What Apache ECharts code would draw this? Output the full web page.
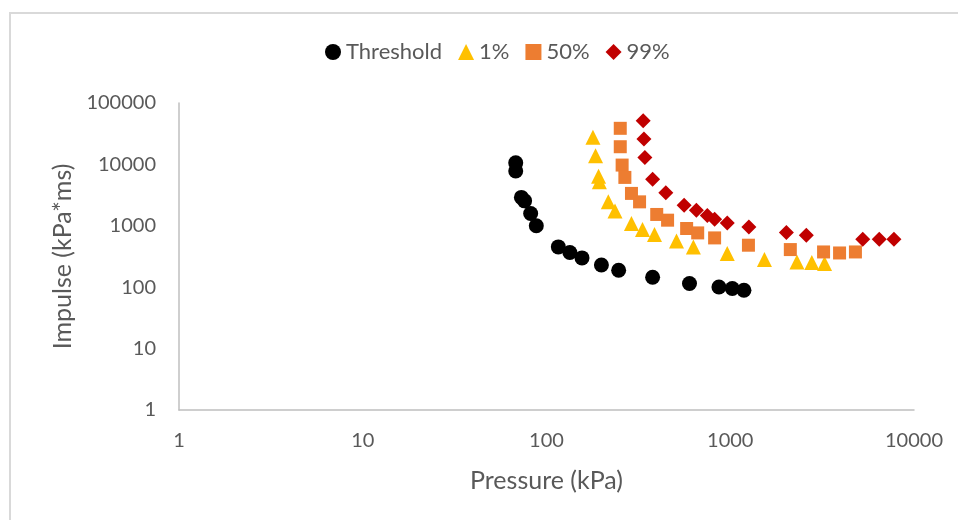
<!DOCTYPE html>
<html>
<head>
<meta charset="utf-8">
<style>
  html, body { margin: 0; padding: 0; background: #fff; }
  #chart { width: 958px; height: 520px; }
</style>
<script src="https://cdn.jsdelivr.net/npm/echarts@6/dist/echarts.min.js"></script>
</head>
<body>
<div id="chart"></div>
<script>
// pressure (kPa) / impulse (kPa*ms)
const thresholdX = [68, 68, 73, 76, 82, 88, 116, 134, 156, 199, 247, 378, 600, 868, 1026, 1187];
const thresholdY = [10600, 7800, 2900, 2550, 1590, 1000, 453, 367, 300, 230, 189, 145, 115, 101, 95, 89];

const p1X = [179, 185, 192, 194, 217, 236, 290, 333, 387, 510, 630, 963, 1535, 2306, 2780, 3260];
const p1Y = [27600, 13800, 6440, 5200, 2455, 1750, 1090, 870, 721, 567, 453, 353, 282, 258, 252, 243];

const p50X = [252, 252, 258, 267, 290, 321, 398, 456, 579, 665, 822, 1256, 2123, 3220, 3935, 4800];
const p50Y = [38700, 19400, 9750, 6140, 3370, 2455, 1530, 1235, 904, 766, 635, 483, 410, 375, 361, 375];

const p99X = [336, 339, 343, 378, 446, 561, 654, 750, 822, 963, 1263, 2020, 2593, 5260, 6470, 7780];
const p99Y = [51400, 25900, 13000, 5755, 3440, 2170, 1800, 1472, 1281, 1115, 960, 778, 703, 604, 604, 604];

const xTicks = [1, 10, 100, 1000, 10000];
const yTicks = [1, 10, 100, 1000, 10000, 100000];

const seriesNames = ['Threshold', '1%', '50%', '99%'];
const seriesColors = ['#000000', '#FFC000', '#ED7D31', '#C00000'];
const seriesSymbols = ['circle', 'triangle', 'rect', 'diamond'];
const seriesSizes = [15, 15, 13, 15];

function pairs(xs, ys) {
  return xs.map((x, i) => [x, ys[i]]);
}

const allData = [
  pairs(thresholdX, thresholdY),
  pairs(p1X, p1Y),
  pairs(p50X, p50Y),
  pairs(p99X, p99Y)
];

const chart = echarts.init(document.getElementById('chart'));
const fontFamily = 'Lato, "Open Sans", sans-serif';

chart.setOption({
  animation: false,
  textStyle: { fontFamily: fontFamily },
  graphic: [
    {
      type: 'rect',
      shape: { x: 10, y: 13, width: 960, height: 520 },
      style: { fill: 'none', stroke: '#d9d9d9', lineWidth: 2 },
      silent: true
    }
  ],
  legend: {
    top: 36,
    left: 320,
    itemWidth: 16,
    itemHeight: 16,
    itemGap: 16,
    textStyle: { color: '#595959', fontSize: 22, fontFamily: fontFamily },
    data: seriesNames.map((n, i) => ({ name: n, icon: seriesSymbols[i] }))
  },
  grid: { left: 179, right: 44, top: 103, bottom: 110 },
  xAxis: {
    type: 'log',
    logBase: 10,
    min: xTicks[0],
    max: xTicks[xTicks.length - 1],
    name: 'Pressure (kPa)',
    nameLocation: 'middle',
    nameGap: 58,
    nameTextStyle: { color: '#595959', fontSize: 25, fontFamily: fontFamily },
    axisLine: { lineStyle: { color: '#BFBFBF', width: 1.5 } },
    axisTick: { show: false },
    splitLine: { show: false },
    minorTick: { show: false },
    axisLabel: {
      color: '#595959',
      fontSize: 20,
      margin: 21,
      formatter: (v) => String(xTicks.find((t) => Math.abs(t - v) / t < 1e-6) ?? '')
    }
  },
  yAxis: {
    type: 'log',
    logBase: 10,
    min: yTicks[0],
    max: yTicks[yTicks.length - 1],
    name: 'Impulse (kPa*ms)',
    nameLocation: 'middle',
    nameGap: 104,
    nameTextStyle: { color: '#595959', fontSize: 25, fontFamily: fontFamily },
    axisLine: { show: true, lineStyle: { color: '#BFBFBF', width: 1.5 } },
    axisTick: { show: false },
    splitLine: { show: false },
    axisLabel: {
      color: '#595959',
      fontSize: 20,
      margin: 23,
      formatter: (v) => String(yTicks.find((t) => Math.abs(t - v) / t < 1e-6) ?? '')
    }
  },
  series: seriesNames.map((name, i) => ({
    name: name,
    type: 'scatter',
    symbol: seriesSymbols[i],
    symbolSize: seriesSizes[i],
    itemStyle: { color: seriesColors[i], opacity: 1 },
    data: allData[i]
  }))
});
</script>
</body>
</html>
